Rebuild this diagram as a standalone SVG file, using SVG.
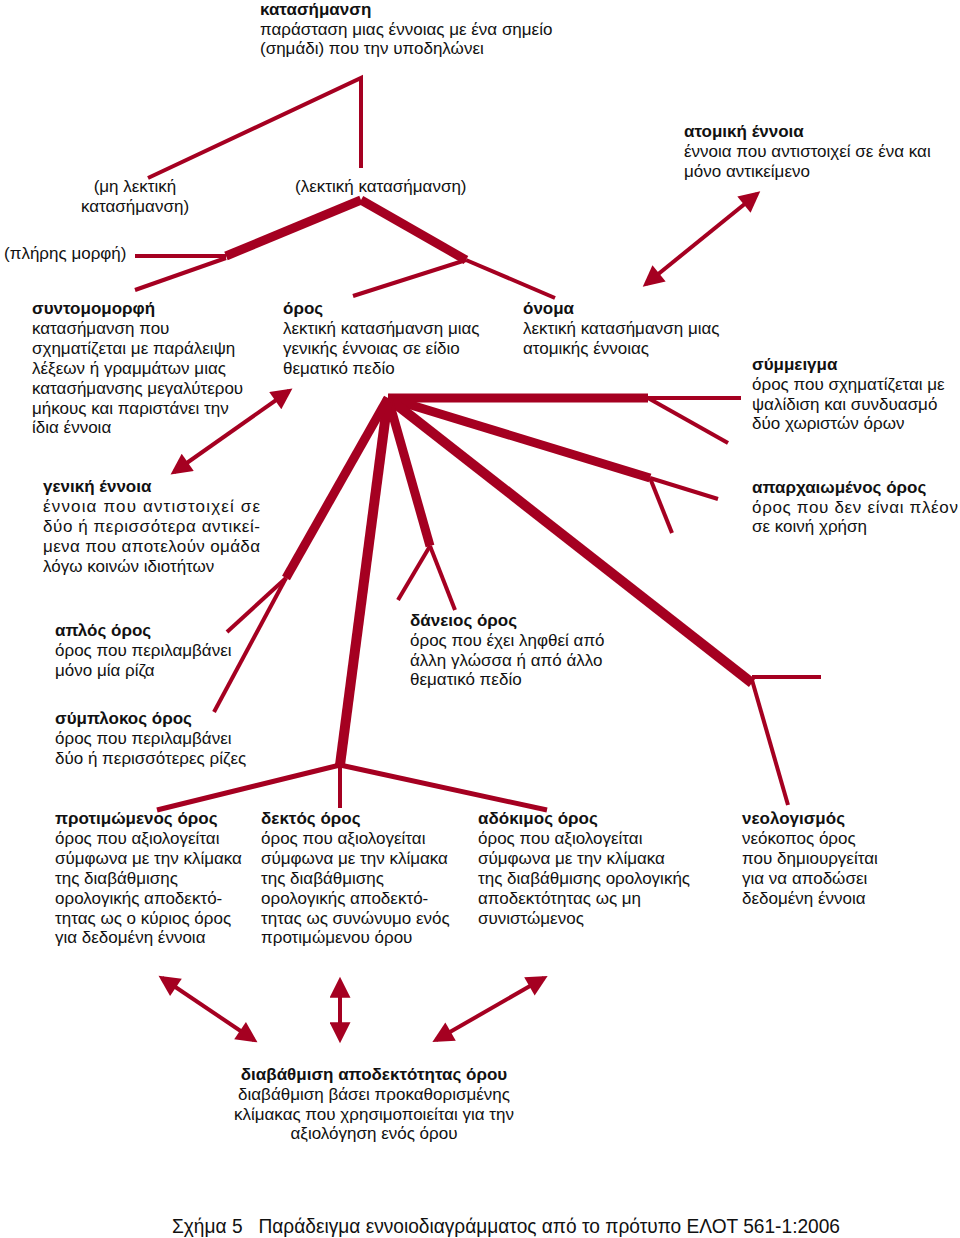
<svg xmlns="http://www.w3.org/2000/svg" width="960" height="1238" viewBox="0 0 960 1238">
<style>
text{font-family:"Liberation Sans",Arial,sans-serif;font-size:17px;fill:#111}
.b{font-weight:bold}
.thin{stroke:#A50021;stroke-width:4;fill:none}
.thick{stroke:#A50021;stroke-width:9;fill:none}
.mid{stroke:#A50021;stroke-width:5;fill:none}
.arr{stroke:#A50021;stroke-width:4;fill:none;marker-start:url(#ah);marker-end:url(#ah)}
.cap{font-size:20px}
</style>
<defs>
<marker id="ah" viewBox="0 0 10 10" refX="8" refY="5" markerWidth="25" markerHeight="21" markerUnits="userSpaceOnUse" orient="auto-start-reverse">
<path d="M0,0 L10,5 L0,10 z" fill="#A50021"/>
</marker>
</defs>
<rect width="960" height="1238" fill="#fff"/>
<g id="connectors">
<polyline class="thin" points="148,178 361,78 361,168"/>
<line class="thick" x1="361" y1="200" x2="226" y2="256"/>
<line class="thick" x1="361" y1="200" x2="466" y2="260"/>
<line class="thin" x1="135" y1="256" x2="226" y2="256"/>
<line class="thin" x1="226" y1="258" x2="135" y2="290"/>
<line class="thin" x1="466" y1="260" x2="555" y2="298"/>
<line class="thin" x1="466" y1="260" x2="353" y2="296"/>
<line class="arr" x1="646" y1="284" x2="757" y2="194"/>
<line class="arr" x1="289" y1="391" x2="174" y2="472"/>
<line class="thick" x1="388" y1="398" x2="648" y2="398"/>
<line class="thick" x1="388" y1="398" x2="650" y2="478"/>
<line class="thick" x1="388" y1="398" x2="752" y2="683" style="stroke-width:10"/>
<line class="thick" x1="388" y1="398" x2="430" y2="546"/>
<line class="thick" x1="388" y1="398" x2="340" y2="765" style="stroke-width:10"/>
<line class="thick" x1="388" y1="398" x2="286" y2="578"/>
<line class="thin" x1="648" y1="398" x2="741" y2="398"/>
<line class="thin" x1="648" y1="398" x2="728" y2="443"/>
<line class="thin" x1="650" y1="478" x2="718" y2="499"/>
<line class="thin" x1="650" y1="478" x2="672" y2="533"/>
<line class="thin" x1="430" y1="546" x2="455" y2="610"/>
<line class="thin" x1="430" y1="546" x2="398" y2="600"/>
<line class="thin" x1="286" y1="578" x2="227" y2="632"/>
<line class="thin" x1="286" y1="578" x2="214" y2="712"/>
<line class="thin" x1="752" y1="677" x2="821" y2="677"/>
<line class="thin" x1="752" y1="680" x2="788" y2="805"/>
<line class="mid" x1="340" y1="765" x2="157" y2="810"/>
<line class="mid" x1="340" y1="765" x2="547" y2="810"/>
<line class="thin" x1="340" y1="765" x2="340" y2="808"/>
<line class="arr" x1="162" y1="978" x2="254" y2="1040"/>
<line class="arr" x1="340" y1="981" x2="340" y2="1039"/>
<line class="arr" x1="544" y1="978" x2="436" y2="1040"/>
</g>
<g id="n-katasimansi">
<text x="260" y="15" class="b">κατασήμανση</text>
<text x="260" y="35">παράσταση μιας έννοιας με ένα σημείο</text>
<text x="260" y="54">(σημάδι) που την υποδηλώνει</text>
</g>
<g id="n-mi-lektiki">
<text x="135" y="192" text-anchor="middle">(μη λεκτική</text>
<text x="135" y="212" text-anchor="middle">κατασήμανση)</text>
</g>
<g id="n-lektiki">
<text x="295" y="192">(λεκτική κατασήμανση)</text>
</g>
<g id="n-pliris">
<text x="4" y="259">(πλήρης μορφή)</text>
</g>
<g id="n-atomiki">
<text x="684" y="137" class="b">ατομική έννοια</text>
<text x="684" y="157">έννοια που αντιστοιχεί σε ένα και</text>
<text x="684" y="177">μόνο αντικείμενο</text>
</g>
<g id="n-syntomomorfi">
<text x="32" y="314" class="b">συντομομορφή</text>
<text x="32" y="334">κατασήμανση που</text>
<text x="32" y="354">σχηματίζεται με παράλειψη</text>
<text x="32" y="374">λέξεων ή γραμμάτων μιας</text>
<text x="32" y="394">κατασήμανσης μεγαλύτερου</text>
<text x="32" y="414">μήκους και παριστάνει την</text>
<text x="32" y="433">ίδια έννοια</text>
</g>
<g id="n-oros">
<text x="283" y="314" class="b">όρος</text>
<text x="283" y="334">λεκτική κατασήμανση μιας</text>
<text x="283" y="354">γενικής έννοιας σε είδιο</text>
<text x="283" y="374">θεματικό πεδίο</text>
</g>
<g id="n-onoma">
<text x="523" y="314" class="b">όνομα</text>
<text x="523" y="334">λεκτική κατασήμανση μιας</text>
<text x="523" y="354">ατομικής έννοιας</text>
</g>
<g id="n-symmeigma">
<text x="752" y="370" class="b">σύμμειγμα</text>
<text x="752" y="390">όρος που σχηματίζεται με</text>
<text x="752" y="410">ψαλίδιση και συνδυασμό</text>
<text x="752" y="429">δύο χωριστών όρων</text>
</g>
<g id="n-geniki">
<text x="43" y="492" class="b">γενική έννοια</text>
<text x="43" y="512" textLength="217" lengthAdjust="spacing">έννοια που αντιστοιχεί σε</text>
<text x="43" y="532" textLength="217" lengthAdjust="spacing">δύο ή περισσότερα αντικεί-</text>
<text x="43" y="552" textLength="217" lengthAdjust="spacing">μενα που αποτελούν ομάδα</text>
<text x="43" y="572">λόγω κοινών ιδιοτήτων</text>
</g>
<g id="n-aparchaiomenos">
<text x="752" y="493" class="b">απαρχαιωμένος όρος</text>
<text x="752" y="513" textLength="206" lengthAdjust="spacing">όρος που δεν είναι πλέον</text>
<text x="752" y="532">σε κοινή χρήση</text>
</g>
<g id="n-aplos">
<text x="55" y="636" class="b">απλός όρος</text>
<text x="55" y="656">όρος που περιλαμβάνει</text>
<text x="55" y="676">μόνο μία ρίζα</text>
</g>
<g id="n-daneios">
<text x="410" y="626" class="b">δάνειος όρος</text>
<text x="410" y="646">όρος που έχει ληφθεί από</text>
<text x="410" y="666">άλλη γλώσσα ή από άλλο</text>
<text x="410" y="685">θεματικό πεδίο</text>
</g>
<g id="n-symplokos">
<text x="55" y="724" class="b">σύμπλοκος όρος</text>
<text x="55" y="744">όρος που περιλαμβάνει</text>
<text x="55" y="764">δύο ή περισσότερες ρίζες</text>
</g>
<g id="n-protimomenos">
<text x="55" y="824" class="b">προτιμώμενος όρος</text>
<text x="55" y="844">όρος που αξιολογείται</text>
<text x="55" y="864">σύμφωνα με την κλίμακα</text>
<text x="55" y="884">της διαβάθμισης</text>
<text x="55" y="904">ορολογικής αποδεκτό-</text>
<text x="55" y="924">τητας ως ο κύριος όρος</text>
<text x="55" y="943">για δεδομένη έννοια</text>
</g>
<g id="n-dektos">
<text x="261" y="824" class="b">δεκτός όρος</text>
<text x="261" y="844">όρος που αξιολογείται</text>
<text x="261" y="864">σύμφωνα με την κλίμακα</text>
<text x="261" y="884">της διαβάθμισης</text>
<text x="261" y="904">ορολογικής αποδεκτό-</text>
<text x="261" y="924">τητας ως συνώνυμο ενός</text>
<text x="261" y="943">προτιμώμενου όρου</text>
</g>
<g id="n-adokimos">
<text x="478" y="824" class="b">αδόκιμος όρος</text>
<text x="478" y="844">όρος που αξιολογείται</text>
<text x="478" y="864">σύμφωνα με την κλίμακα</text>
<text x="478" y="884">της διαβάθμισης ορολογικής</text>
<text x="478" y="904">αποδεκτότητας ως μη</text>
<text x="478" y="924">συνιστώμενος</text>
</g>
<g id="n-neologismos">
<text x="742" y="824" class="b">νεολογισμός</text>
<text x="742" y="844">νεόκοπος όρος</text>
<text x="742" y="864">που δημιουργείται</text>
<text x="742" y="884">για να αποδώσει</text>
<text x="742" y="904">δεδομένη έννοια</text>
</g>
<g id="n-diavathmisi">
<text x="374" y="1080" class="b" text-anchor="middle">διαβάθμιση αποδεκτότητας όρου</text>
<text x="374" y="1100" text-anchor="middle">διαβάθμιση βάσει προκαθορισμένης</text>
<text x="374" y="1120" text-anchor="middle">κλίμακας που χρησιμοποιείται για την</text>
<text x="374" y="1139" text-anchor="middle">αξιολόγηση ενός όρου</text>
</g>
<g id="caption">
<text x="172" y="1233" class="cap" textLength="668" lengthAdjust="spacingAndGlyphs" xml:space="preserve">Σχήμα 5   Παράδειγμα εννοιοδιαγράμματος από το πρότυπο ΕΛΟΤ 561-1:2006</text>
</g>
</svg>
